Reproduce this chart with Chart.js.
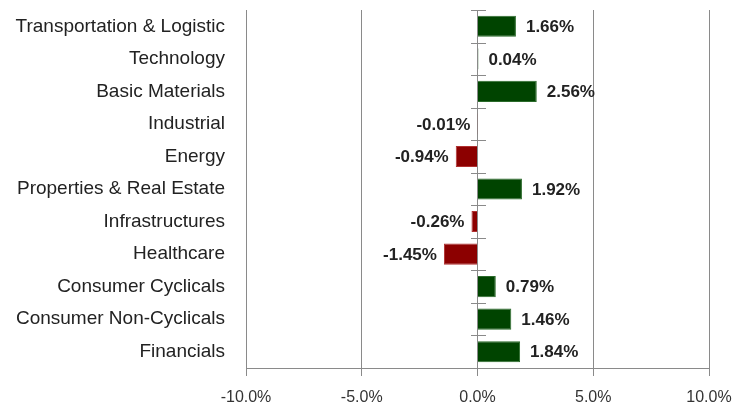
<!DOCTYPE html>
<html>
<head>
<meta charset="utf-8">
<script src="https://cdn.jsdelivr.net/npm/chart.js@4.4.0/dist/chart.umd.min.js"></script>
<style>
  html, body { margin: 0; padding: 0; background: #fff; }
</style>
</head>
<body>
<canvas id="myChart" width="740" height="407"></canvas>
<script>
    // data
    const sectors = ['Transportation & Logistic', 'Technology', 'Basic Materials', 'Industrial', 'Energy',
      'Properties & Real Estate', 'Infrastructures', 'Healthcare', 'Consumer Cyclicals',
      'Consumer Non-Cyclicals', 'Financials'];
    const changes = [1.66, 0.04, 2.56, -0.01, -0.94, 1.92, -0.26, -1.45, 0.79, 1.46, 1.84];
    const xTicks = [-10, -5, 0, 5, 10];

    const green = '#004400';
    const red = '#8c0000';
    const gridGray = '#8a8a8a';

    // value labels next to each bar
    const valueLabels = {
      id: 'valueLabels',
      afterDatasetsDraw(chart) {
        const ctx = chart.ctx;
        const meta = chart.getDatasetMeta(0);
        ctx.save();
        ctx.font = 'bold 17px "Liberation Sans", Arial, sans-serif';
        ctx.fillStyle = '#222';
        ctx.textBaseline = 'middle';
        meta.data.forEach(function(bar, i) {
          const v = changes[i];
          const txt = v.toFixed(2) + '%';
          if (v >= 0) {
            ctx.textAlign = 'left';
            ctx.fillText(txt, bar.x + 10, bar.y + 1);
          } else {
            ctx.textAlign = 'right';
            ctx.fillText(txt, bar.x - 7, bar.y + 1);
          }
        });
        ctx.restore();
      }
    };

    // little cross ticks on the zero line between categories
    const zeroTicks = {
      id: 'zeroTicks',
      beforeDatasetsDraw(chart) {
        const ctx = chart.ctx;
        const x0 = Math.round(chart.scales.x.getPixelForValue(0));
        const y = chart.scales.y;
        ctx.save();
        ctx.strokeStyle = gridGray;
        ctx.lineWidth = 1;
        for (let i = 0; i <= sectors.length; i++) {
          const py = Math.round(y.getPixelForValue(i - 0.5)) + 0.5;
          ctx.beginPath();
          ctx.moveTo(x0 - 7, py);
          ctx.lineTo(x0 + 8, py);
          ctx.stroke();
        }
        ctx.restore();
      }
    };

    const ctx = document.getElementById('myChart');
    const myChart = new Chart(ctx, {
      type: 'bar',
      data: {
        labels: sectors,
        datasets: [{
          data: changes,
          backgroundColor: (c) => c.raw >= 0 ? green : red,
          borderColor: (c) => c.raw >= 0 ? '#2a6a2a' : '#b03030',
          borderWidth: 1,
          barPercentage: 0.65,
          categoryPercentage: 1.0,
        }]
      },
      options: {
        indexAxis: 'y',
        responsive: false,
        animation: false,
        layout: { padding: { top: 10, right: 0, left: 0, bottom: 0 } },
        plugins: {
          legend: { display: false },
          tooltip: { enabled: false }
        },
        scales: {
          x: {
            min: -10,
            max: 10,
            afterBuildTicks: (s) => { s.ticks = xTicks.map(v => ({ value: v })); },
            afterFit: (s) => { s.height = 39; s.paddingRight = 31; s.paddingLeft = 0; },
            ticks: {
              callback: (v) => v.toFixed(1) + '%',
              color: '#333',
              padding: 12,
              maxRotation: 0,
              font: { size: 16, family: '"Liberation Sans", Arial, sans-serif' }
            },
            grid: { color: gridGray, lineWidth: 1, tickLength: 8 },
            border: { color: gridGray }
          },
          y: {
            afterFit: (s) => { s.width = 246; s.paddingTop = 0; s.paddingBottom = 0; },
            grid: { display: false, drawTicks: false },
            border: { display: false },
            ticks: {
              color: '#222',
              padding: 21,
              font: { size: 19, family: '"Liberation Sans", Arial, sans-serif' }
            }
          }
        }
      },
      plugins: [zeroTicks, valueLabels]
    });
</script>
</body>
</html>
